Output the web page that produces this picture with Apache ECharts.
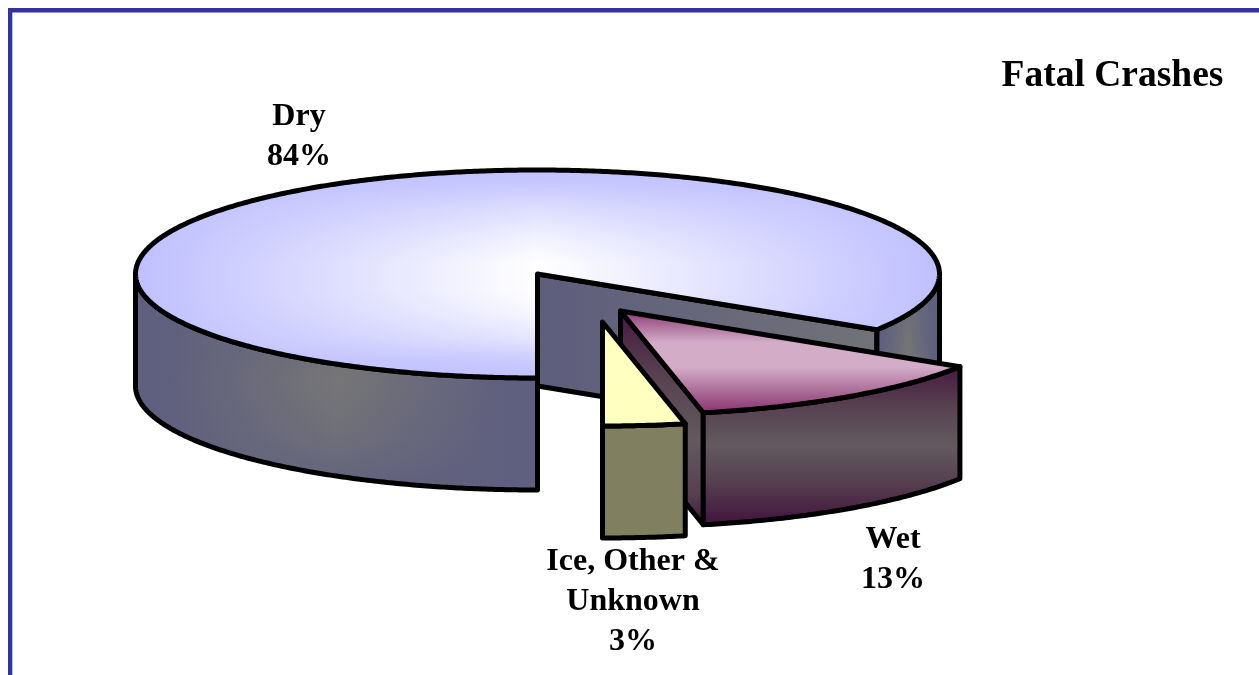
<!DOCTYPE html>
<html>
<head>
<meta charset="utf-8">
<title>Fatal Crashes</title>
<script src="https://cdn.jsdelivr.net/npm/echarts@6/dist/echarts.min.js"></script>
<style>
  html, body { margin: 0; padding: 0; background: #fff; }
  #chart { width: 1259px; height: 675px; }
</style>
</head>
<body>
<div id="chart"></div>
<script>
const titleText = 'Fatal Crashes'
const sliceNames = ['Dry', 'Wet', 'Ice, Other &\nUnknown']
const sliceValues = [84, 12.7, 3.3]

// pie geometry, the 3d pie is an ellipse with a wall below it
const cx = 537.5
const cy = 274
const rx = 402
const ry = 104
const depth = 112
const startAngle = 90
const sliceOffsets = [[0, 0], [83, 37], [65, 48]]
const labelPos = [[299, 137], [893, 560], [633, 602]]

const font = '"Liberation Serif", "Times New Roman", serif'
const total = sliceValues.reduce((a, b) => a + b, 0)

function linear(horizontal, stops) {
  const list = stops.map(s => ({ offset: s[0], color: s[1] }))
  return horizontal
    ? new echarts.graphic.LinearGradient(0, 0, 1, 0, list)
    : new echarts.graphic.LinearGradient(0, 0, 0, 1, list)
}

// the original has "from centre" box gradients, two layers get close to it
function edgeFade(r, g, b, stops) {
  return linear(false, stops.map(s => [s[0], `rgba(${r},${g},${b},${s[1]})`]))
}

const sliceStyles = [
  {
    top: [
      linear(true, [[0, '#bfbfff'], [0.5, '#ffffff'], [1, '#bfbfff']]),
      edgeFade(191, 191, 255, [[0, 1], [0.1, 0.8], [0.2, 0.5], [0.33, 0.2], [0.45, 0], [0.58, 0], [0.68, 0.12], [0.8, 0.4], [0.9, 0.8], [1, 1]])
    ],
    wall: [
      linear(true, [[0, '#5f5f7f'], [0.06, '#5f5f7f'], [0.5, '#767676'], [0.92, '#5f5f7f'], [1, '#5f5f7f']]),
      edgeFade(95, 95, 127, [[0, 1], [0.125, 0.6], [0.25, 0.3], [0.5, 0], [0.75, 0.3], [0.875, 0.6], [1, 1]])
    ],
    face: [linear(true, [[0, '#5d5d7d'], [1, '#727278']])]
  },
  {
    top: [linear(false, [[0, '#8a2a6c'], [0.12, '#a35f8f'], [0.32, '#d3adc7'], [0.55, '#d3adc7'], [0.82, '#a35f8f'], [1, '#8a2a6c']])],
    wall: [linear(false, [[0, '#451840'], [0.25, '#574050'], [0.5, '#625a5e'], [0.72, '#574050'], [1, '#40103c']])],
    face: [linear(false, [[0, '#451840'], [0.3, '#574050'], [0.6, '#625a5e'], [0.85, '#574050'], [1, '#40103c']])]
  },
  {
    top: ['#ffffbf'],
    wall: ['#808060'],
    face: ['#808060']
  }
]

function ellipsePoint(deg, ox, oy, dz) {
  const a = deg * Math.PI / 180
  return [cx + ox + rx * Math.cos(a), cy + oy + dz + ry * Math.sin(a)]
}

function arcPoints(from, to, ox, oy, dz) {
  const pts = []
  const steps = Math.max(2, Math.ceil(Math.abs(to - from) * 2))
  for (let i = 0; i <= steps; i++) {
    pts.push(ellipsePoint(from + (to - from) * i / steps, ox, oy, dz))
  }
  return pts
}

function layers(points, fills) {
  return fills.map((fill, i) => ({
    type: 'polygon',
    shape: { points },
    style: {
      fill,
      stroke: i === fills.length - 1 ? '#000' : 'none',
      lineWidth: 5,
      lineJoin: 'round'
    }
  }))
}

function renderSlice(params, api) {
  const idx = params.dataIndex
  let before = 0
  for (let i = 0; i < idx; i++) before += sliceValues[i]
  const a0 = startAngle + before / total * 360
  const a1 = a0 + api.value(0) / total * 360
  const [ox, oy] = sliceOffsets[idx]
  const look = sliceStyles[idx]
  const children = []

  // cut face at the end of the slice, only seen when it points to the viewer
  const endAngle = a1 % 360
  if (endAngle > 0 && endAngle < 90) {
    const p = ellipsePoint(a1, ox, oy, 0)
    const c = [cx + ox, cy + oy]
    children.push(...layers([c, p, [p[0], p[1] + depth], [c[0], c[1] + depth]], look.face))
  }

  // outer wall, front half of the ellipse only
  ;[[0, 180], [360, 540]].forEach(r => {
    const from = Math.max(a0, r[0])
    const to = Math.min(a1, r[1])
    if (to <= from) return
    const upper = arcPoints(from, to, ox, oy, 0)
    const lower = arcPoints(to, from, ox, oy, depth)
    children.push(...layers(upper.concat(lower), look.wall))
  })

  // top
  const top = [[cx + ox, cy + oy]].concat(arcPoints(a0, a1, ox, oy, 0))
  children.push(...layers(top, look.top))

  return { type: 'group', children }
}

const chart = echarts.init(document.getElementById('chart'))
chart.setOption({
  animation: false,
  backgroundColor: '#fff',
  title: {
    text: titleText,
    left: 1107.5,
    top: 52,
    textAlign: 'center',
    textStyle: { fontFamily: font, fontWeight: 'bold', fontSize: 37.5, color: '#000' }
  },
  graphic: [
    { type: 'rect', shape: { x: 8, y: 8, width: 1251, height: 4.5 }, style: { fill: '#333399' } },
    { type: 'rect', shape: { x: 8, y: 8, width: 4.3, height: 667 }, style: { fill: '#333399' } },
    ...sliceNames.map((name, i) => ({
      type: 'text',
      x: labelPos[i][0],
      y: labelPos[i][1],
      z: 10,
      style: {
        text: `${name}\n${Math.round(sliceValues[i])}%`,
        font: `bold 32px ${font}`,
        lineHeight: 40,
        fill: '#000',
        align: 'center',
        verticalAlign: 'middle'
      }
    }))
  ],
  series: [
    {
      type: 'custom',
      coordinateSystem: 'none',
      silent: true,
      renderItem: renderSlice,
      data: sliceValues.map(v => [v])
    }
  ]
})
</script>
</body>
</html>
